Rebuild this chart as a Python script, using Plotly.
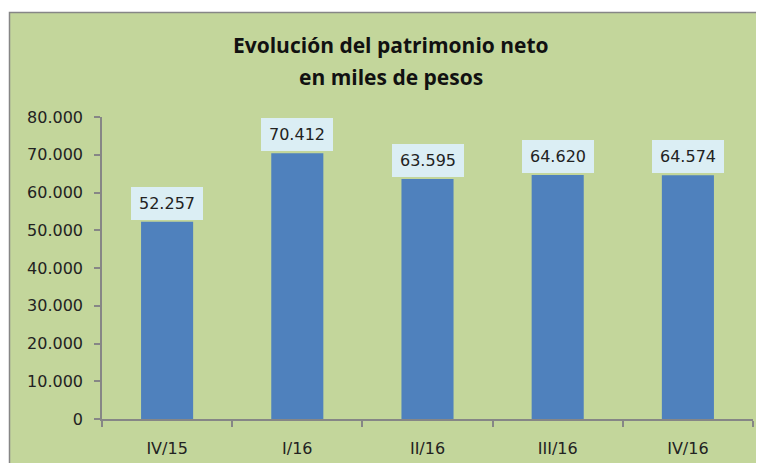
import plotly.graph_objects as go

categories = ["IV/15", "I/16", "II/16", "III/16", "IV/16"]
values = [52257, 70412, 63595, 64620, 64574]
y_ticks = [0, 10000, 20000, 30000, 40000, 50000, 60000, 70000, 80000]
title_lines = ["Evolución del patrimonio neto", "en miles de pesos"]

OFF = 8  # page body margin
W, H = 764 - OFF, 463 - OFF
L, R, T, B = 102 - OFF, 11, 117 - OFF, 463 - 419
pw = W - L - R
ph = H - T - B

GREEN = "#c3d69b"
BAR = "#4f81bd"
AXIS = "#868686"

def fmt(v):
    return f"{v:,}".replace(",", ".")

def px_to_paper_x(sx):
    return (sx - OFF - L) / pw

def py_to_paper_y(sy):
    return (H - B - (sy - OFF)) / ph

fig = go.Figure()
fig.add_trace(go.Bar(
    x=categories, y=values, width=0.4,
    marker=dict(color=BAR, line=dict(width=0)),
    hoverinfo="skip",
))

annotations = []
for c, v in zip(categories, values):
    annotations.append(dict(
        x=c, y=v, xref="x", yref="y", text=fmt(v), showarrow=False,
        yanchor="bottom", xanchor="center", yshift=2,
        font=dict(family="DejaVu Sans", size=16, color="#222222"),
        bgcolor="#dbeef4", width=70, height=31, borderpad=1, borderwidth=0,
    ))

title_y = [45, 77]
for t, sy in zip(title_lines, title_y):
    annotations.append(dict(
        x=px_to_paper_x(391), y=py_to_paper_y(sy), xref="paper", yref="paper",
        text=f"<b>{t}</b>", showarrow=False, xanchor="center", yanchor="middle",
        font=dict(family="Open Sans", size=21, color="#111111"),
    ))

shapes = [dict(
    type="rect", xref="paper", yref="paper", layer="below",
    x0=px_to_paper_x(9.5), x1=px_to_paper_x(780),
    y0=py_to_paper_y(480), y1=py_to_paper_y(12.5),
    fillcolor=GREEN, line=dict(color=AXIS, width=1.5),
)]

fig.update_layout(
    width=W, height=H,
    margin=dict(l=L, r=R, t=T, b=B, pad=0, autoexpand=False),
    paper_bgcolor="white",
    plot_bgcolor="rgba(0,0,0,0)",
    separators=",.",
    showlegend=False,
    annotations=annotations,
    shapes=shapes,
    xaxis=dict(
        showgrid=False, showline=True, linecolor=AXIS, linewidth=1.5,
        ticks="outside", ticklen=6, tickcolor=AXIS, tickwidth=1.5,
        tickson="boundaries", zeroline=False, automargin=False,
        tickfont=dict(family="DejaVu Sans", size=16, color="#222222"),
        ticklabelstandoff=14,
    ),
    yaxis=dict(
        range=[0, 80000], tickvals=y_ticks, ticktext=[fmt(v) for v in y_ticks],
        showgrid=False, showline=True, linecolor=AXIS, linewidth=1.5,
        ticks="outside", ticklen=6, tickcolor=AXIS, tickwidth=1.5,
        zeroline=False, automargin=False,
        tickfont=dict(family="DejaVu Sans", size=16, color="#222222"),
        ticklabelstandoff=8,
    ),
)

fig.write_html("out.html")
